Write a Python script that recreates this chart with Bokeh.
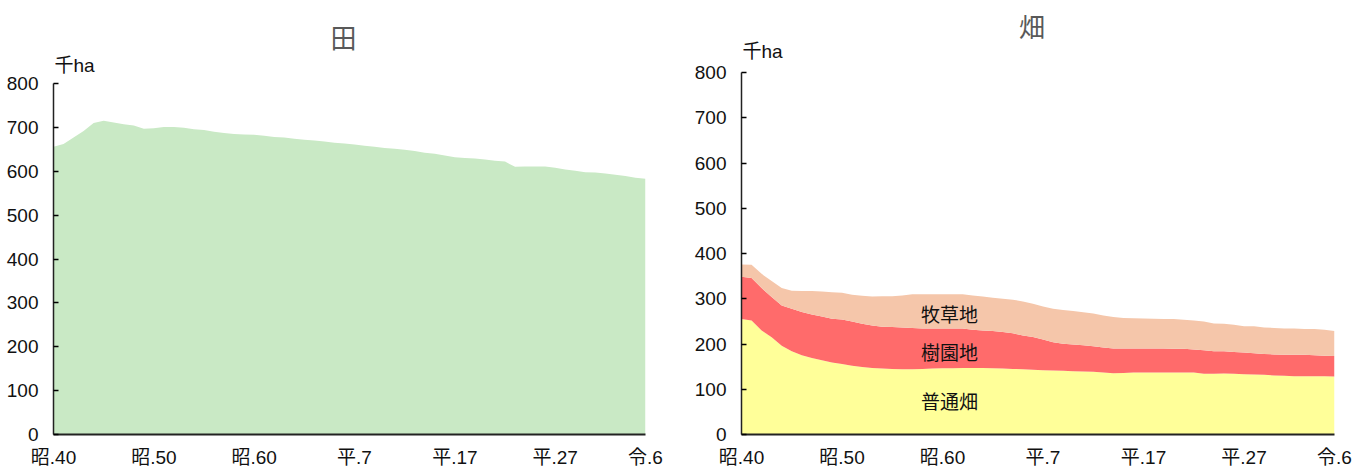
from bokeh.plotting import figure
from bokeh.models import ColumnDataSource, Range1d, FixedTicker, Label
from bokeh.layouts import row
from bokeh.embed import file_html
from bokeh.resources import INLINE

years = list(range(1965, 2025))

paddy = [656, 662, 677, 692, 710, 715, 711, 707, 704, 697,
         698, 701, 701, 699, 696, 694, 690, 687, 685, 684,
         683, 681, 678, 677, 674, 672, 670, 668, 665, 663,
         661, 658, 656, 653, 651, 649, 646, 642, 640, 636,
         632, 630, 629, 627, 624, 622, 610, 611, 611, 611,
         608, 604, 601, 598, 597, 595, 592, 589, 585, 583]

futsuu = [255.5, 252, 230, 215, 196, 184, 175, 169, 164, 159,
          156, 152, 149, 147, 146, 145, 144, 144, 145, 146,
          146.5, 146.5, 147, 147, 147, 146.5, 146, 145, 144, 143,
          142, 141.5, 141, 140, 139, 138.5, 137, 135.5, 136, 137,
          137, 137, 137, 137, 137, 137, 134, 134, 135, 134,
          133, 132.5, 132, 130.5, 130, 129, 129, 129, 129, 128]

juen = [93, 94, 93.5, 89, 89, 94, 95.5, 96, 97, 97,
        98, 98, 96, 94, 92, 92.5, 92.5, 91.5, 89.5, 88,
        87.5, 87.5, 87, 84.5, 83, 82, 80.5, 78.5, 75, 72.5,
        68, 62.5, 59.5, 59, 58, 56.5, 55.5, 54.5, 54, 53,
        53, 53, 53, 52.5, 52.5, 51, 52, 50, 49, 48.5,
        48, 47, 46, 46.5, 46.5, 47.5, 47.5, 46, 45, 45.5]

bokusou = [27, 29, 31.5, 35, 38.5, 39.5, 46.5, 52, 55, 58.5,
           59, 59, 61.5, 64, 67.5, 68, 70.5, 74.5, 75.5, 76,
           76, 76, 76, 75.5, 75, 73.5, 73.5, 74.5, 75, 73.5,
           73, 74, 74.5, 74, 73, 72.5, 70.5, 69.5, 67.5, 67,
           66.5, 66, 65.5, 65.5, 64, 64, 64, 61.5, 61, 60,
           58.5, 59.5, 58.5, 58.5, 57.5, 57.5, 56.5, 58, 57.5, 55]

tick_years = [1965, 1975, 1985, 1995, 2005, 2015, 2024]
tick_labels = ["昭.40", "昭.50", "昭.60", "平.7", "平.17", "平.27", "令.6"]
y_ticks = [0, 100, 200, 300, 400, 500, 600, 700, 800]

series_names = ["普通畑", "樹園地", "牧草地"]
series_colors = ["#FFFF99", "#FF6B6B", "#F5C6AA"]
paddy_color = "#C9E9C5"

TICK_FONT = "Liberation Sans, Noto Sans CJK JP"
CJK_FONT = "Noto Sans CJK JP"

FRAME_H = 434


def make_fig(width_frame, border_right, y_end):
    p = figure(frame_width=width_frame, frame_height=FRAME_H,
               x_range=Range1d(1965, 2024), y_range=Range1d(0, y_end),
               output_backend="svg", toolbar_location=None, title=None,
               min_border_left=53, min_border_right=border_right,
               min_border_top=0, min_border_bottom=30)
    p.grid.visible = False
    p.outline_line_color = None
    p.background_fill_color = "white"
    p.border_fill_color = "white"
    p.xaxis.ticker = FixedTicker(ticks=tick_years)
    p.xaxis.major_label_overrides = {t: l for t, l in zip(tick_years, tick_labels)}
    p.xaxis.major_tick_in = 0
    p.xaxis.major_tick_out = 0
    p.xaxis.minor_tick_line_color = None
    p.xaxis.axis_line_width = 2
    p.xaxis.axis_line_color = "#222222"
    p.xaxis.major_label_standoff = 12
    p.yaxis.ticker = FixedTicker(ticks=y_ticks)
    p.yaxis.bounds = (0, 800)
    p.yaxis.major_tick_in = 5
    p.yaxis.major_tick_out = 0
    p.yaxis.minor_tick_line_color = None
    p.yaxis.axis_line_width = 1.5
    p.yaxis.major_tick_line_width = 1.5
    p.yaxis.axis_line_color = "#222222"
    p.yaxis.major_label_standoff = 15
    for ax in (p.xaxis, p.yaxis):
        ax.major_label_text_font = TICK_FONT
        ax.major_label_text_font_size = "19px"
        ax.major_label_text_color = "#111111"
    return p


def text(p, x, y, s, size, color, font=CJK_FONT, align="center"):
    p.add_layout(Label(x=x, y=y, text=s, text_font=font, text_font_size=size,
                       text_align=align, text_baseline="middle", text_color=color))


# Left: 田  (800 sits 351 px above 0)
left = make_fig(592, 43, 800 * FRAME_H / 351)
src_l = ColumnDataSource(dict(year=years, paddy=paddy))
left.varea(x="year", y1=0, y2="paddy", source=src_l, fill_color=paddy_color)
text(left, 1965.1, 841, "千ha", "19px", "#111111", TICK_FONT, "left")
text(left, 1993.9, 908, "田", "26px", "#595959")

# Right: 畑  (800 sits 362 px above 0)
right = make_fig(593, 25, 800 * FRAME_H / 362)
src_r = ColumnDataSource({"year": years, "普通畑": futsuu, "樹園地": juen, "牧草地": bokusou})
right.varea_stack(stackers=series_names, x="year", color=series_colors, source=src_r)
text(right, 1965.1, 846, "千ha", "19px", "#111111", TICK_FONT, "left")
text(right, 1993.9, 904, "畑", "26px", "#595959")
for name, yv in zip(["牧草地", "樹園地", "普通畑"], [268.5, 184, 75]):
    text(right, 1985.7, yv, name, "19px", "#111111")

layout = row(left, right)
open("out.html", "w").write(file_html(layout, INLINE))
